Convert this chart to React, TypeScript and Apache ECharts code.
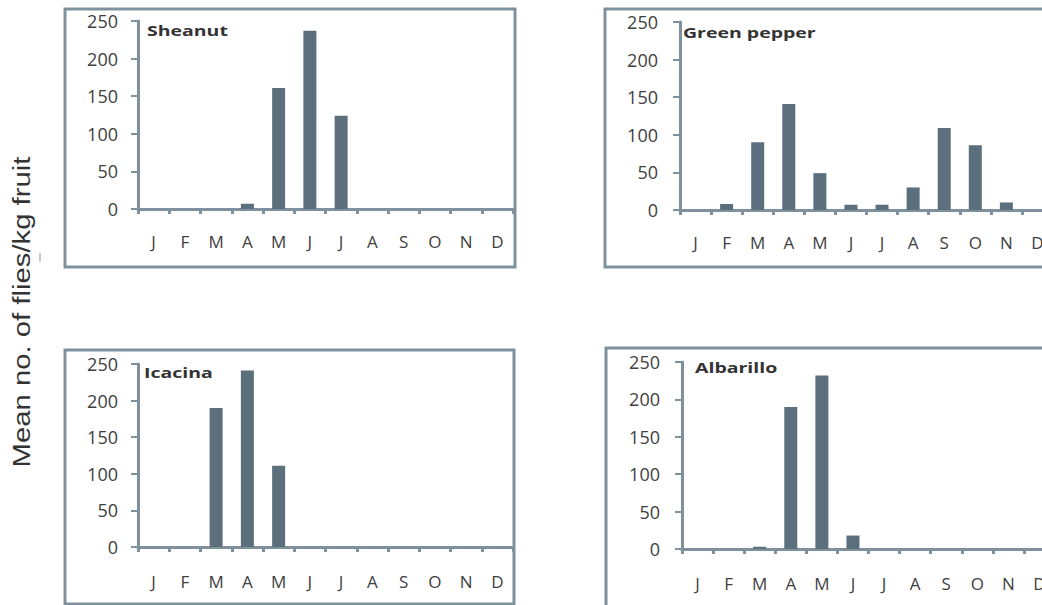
import React, { useEffect, useRef } from "react";
import * as echarts from "echarts";

const months = ["J", "F", "M", "A", "M", "J", "J", "A", "S", "O", "N", "D"];
const yTicks = [0, 50, 100, 150, 200, 250];
const panelTitles = ["Sheanut", "Green pepper", "Icacina", "Albarillo"];
const sheanut = [0, 0, 0, 7, 161, 237, 124, 0, 0, 0, 0, 0];
const greenPepper = [0, 8, 90, 141, 49, 7, 7, 30, 109, 86, 10, 0];
const icacina = [0, 0, 190, 241, 111, 0, 0, 0, 0, 0, 0, 0];
const albarillo = [0, 0, 3, 190, 232, 18, 0, 0, 0, 0, 0, 0];
const yAxisTitle = "Mean no. of flies/kg fruit";

const BAR = "#5b6f7d";
const AXIS = "#7f919d";
const TXT = "#404040";
const FONT = "'Open Sans', Lato, sans-serif";

export default function App() {
  const ref = useRef<HTMLDivElement>(null);
  useEffect(() => {
    document.body.style.margin = "0";
    if (!ref.current) return;
    const chart = echarts.init(ref.current, undefined, { renderer: "svg" });
    const grids = [
      { left: 138, top: 21, width: 375, height: 188 },
      { left: 680, top: 22, width: 373, height: 188 },
      { left: 138, top: 364, width: 375, height: 183 },
      { left: 682, top: 362, width: 373, height: 187 },
    ];
    const labelMargins = [24, 24, 26, 26];
    const yLabelMargins = [20, 22, 20, 22];
    const data = [sheanut, greenPepper, icacina, albarillo];
    const frames = [
      { x: 65, y: 9, width: 450, height: 258 },
      { x: 605, y: 9, width: 520, height: 258 },
      { x: 65, y: 350, width: 449, height: 254 },
      { x: 606, y: 348, width: 520, height: 300 },
    ];
    const titlePos = [
      [147, 30],
      [683, 32],
      [144, 372],
      [695, 367],
    ];
    const option: any = {
      animation: false,
      backgroundColor: "#ffffff",
      grid: grids.map((g) => ({ ...g, containLabel: false })),
      xAxis: grids.map((_, i) => ({
        type: "category",
        gridIndex: i,
        data: months,
        boundaryGap: true,
        axisLine: { show: true, lineStyle: { color: AXIS, width: 3 } },
        axisTick: { show: true, length: 5, lineStyle: { color: AXIS, width: 3 } },
        axisLabel: { color: TXT, fontSize: 17, fontFamily: FONT, margin: labelMargins[i] },
        splitLine: { show: false },
      })),
      yAxis: grids.map((_, i) => ({
        type: "value",
        gridIndex: i,
        min: yTicks[0],
        max: yTicks[yTicks.length - 1],
        interval: 50,
        axisLine: { show: true, lineStyle: { color: AXIS, width: 3 } },
        axisTick: { show: true, length: 7, lineStyle: { color: AXIS, width: 2 } },
        axisLabel: { color: TXT, fontSize: 18, fontFamily: FONT, margin: yLabelMargins[i] },
        splitLine: { show: false },
      })),
      series: data.map((d, i) => ({
        type: "bar",
        name: panelTitles[i],
        xAxisIndex: i,
        yAxisIndex: i,
        data: d,
        barWidth: 13,
        itemStyle: { color: BAR },
      })),
      graphic: [
        ...frames.map((f) => ({
          type: "rect",
          shape: f,
          style: { fill: "none", stroke: AXIS, lineWidth: 3 },
          silent: true,
          z: -1,
        })),
        ...panelTitles.map((t, i) => ({
          type: "text",
          x: titlePos[i][0],
          y: titlePos[i][1],
          scaleX: 1.3,
          style: {
            text: t,
            fill: "#333333",
            font: `bold 15px ${FONT}`,
            textVerticalAlign: "middle",
          },
        })),
        {
          type: "text",
          x: 22,
          y: 312,
          rotation: Math.PI / 2,
          scaleX: 1.22,
          style: {
            text: yAxisTitle,
            fill: "#333333",
            font: "24px 'Liberation Sans', Arial, sans-serif",
            textAlign: "center",
            textVerticalAlign: "middle",
          },
        },
        {
          type: "line",
          shape: { x1: 40, y1: 253, x2: 40, y2: 262 },
          style: { stroke: "#999999", lineWidth: 1 },
        },
      ],
    };
    chart.setOption(option);
    return () => chart.dispose();
  }, []);
  return (
    <div style={{ width: 1042, height: 605, overflow: "hidden", position: "relative" }}>
      <div ref={ref} style={{ width: 1100, height: 605 }} />
    </div>
  );
}
